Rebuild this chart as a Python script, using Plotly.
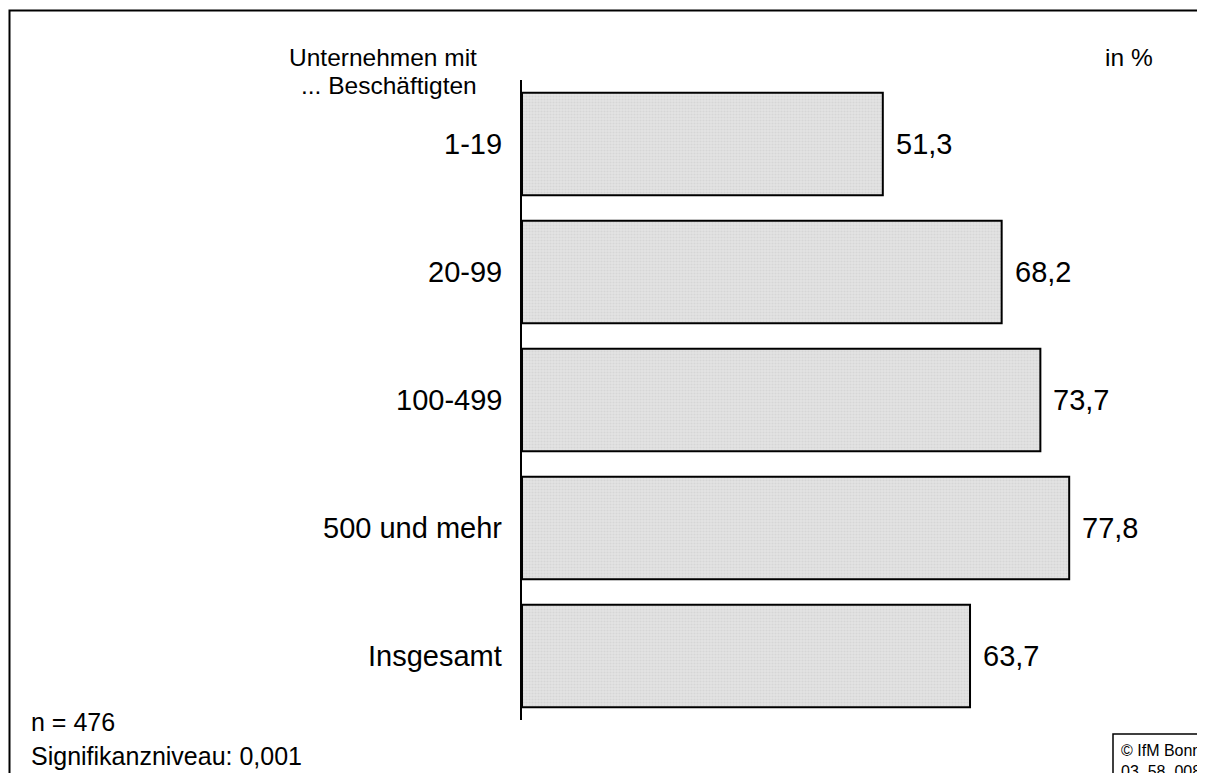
import plotly.graph_objects as go

categories = ["1-19", "20-99", "100-499", "500 und mehr", "Insgesamt"]
values = [51.3, 68.2, 73.7, 77.8, 63.7]
value_labels = ["51,3", "68,2", "73,7", "77,8", "63,7"]

OFF = 8  # page body margin
W, H = 1205 - OFF, 773 - OFF
L, R, T, B = 522 - OFF, 50, 80 - OFF, 53
PW, PH = W - L - R, H - T - B
FONT = "Liberation Sans, Arial, sans-serif"

def px(x):
    return (x - OFF - L) / PW

def py(y):
    return (H - B - (y - OFF)) / PH

fig = go.Figure()
fig.add_trace(go.Bar(
    x=values, y=categories, orientation="h", width=0.8,
    marker=dict(color="#dcdcdc", line=dict(color="black", width=2),
                pattern=dict(shape=".", fgcolor="#c8c8c8", bgcolor="#e4e4e4", size=3, solidity=0.4)),
    hoverinfo="skip",
))

ann = []
for c, v, t in zip(categories, values, value_labels):
    ann.append(dict(x=px(504), y=c, xref="paper", yref="y", text=c, showarrow=False,
                    xanchor="right", yanchor="middle", font=dict(size=29, color="black", family=FONT)))
    ann.append(dict(x=v, y=c, xref="x", yref="y", text=t, showarrow=False, xshift=11,
                    xanchor="left", yanchor="middle", font=dict(size=29, color="black", family=FONT)))

ann += [
    dict(x=px(479), y=py(58), text="Unternehmen mit", xanchor="right", yanchor="middle",
         font=dict(size=24.5)),
    dict(x=px(479), y=py(85), text="... Beschäftigten", xanchor="right", yanchor="middle",
         font=dict(size=24.5)),
    dict(x=px(1103), y=py(58), text="in %", xanchor="left", yanchor="middle", font=dict(size=24.5)),
    dict(x=px(29), y=py(722), text="n = 476", xanchor="left", yanchor="middle", font=dict(size=25)),
    dict(x=px(29), y=py(756), text="Signifikanzniveau: 0,001", xanchor="left", yanchor="middle",
         font=dict(size=25)),
    dict(x=px(1119), y=py(750), text="© IfM Bonn", xanchor="left", yanchor="middle", font=dict(size=16)),
    dict(x=px(1119), y=py(772), text="03_58_008", xanchor="left", yanchor="middle", font=dict(size=16)),
]
for a in ann[-7:]:
    a.update(xref="paper", yref="paper", showarrow=False)
    a["font"].update(color="black", family=FONT)

shapes = [
    dict(type="rect", xref="paper", yref="paper", x0=px(9.5), x1=px(1230), y0=py(800), y1=py(10.5),
         line=dict(color="black", width=2), fillcolor="rgba(0,0,0,0)", layer="below"),
    dict(type="rect", xref="paper", yref="paper", x0=px(1113), x1=px(1230), y0=py(800), y1=py(734),
         line=dict(color="black", width=1.5), fillcolor="white", layer="below"),
]

fig.update_layout(
    width=W, height=H, margin=dict(l=L, r=R, t=T, b=B),
    paper_bgcolor="white", plot_bgcolor="rgba(0,0,0,0)",
    showlegend=False, annotations=ann, shapes=shapes,
    font=dict(family=FONT, color="black"),
    xaxis=dict(range=[0, 90], visible=False, fixedrange=True),
    yaxis=dict(type="category", range=[4.5, -0.5], showticklabels=False, ticks="",
               showgrid=False, zeroline=False, showline=True, linecolor="black", linewidth=2,
               fixedrange=True),
)

fig.write_html("out.html")
